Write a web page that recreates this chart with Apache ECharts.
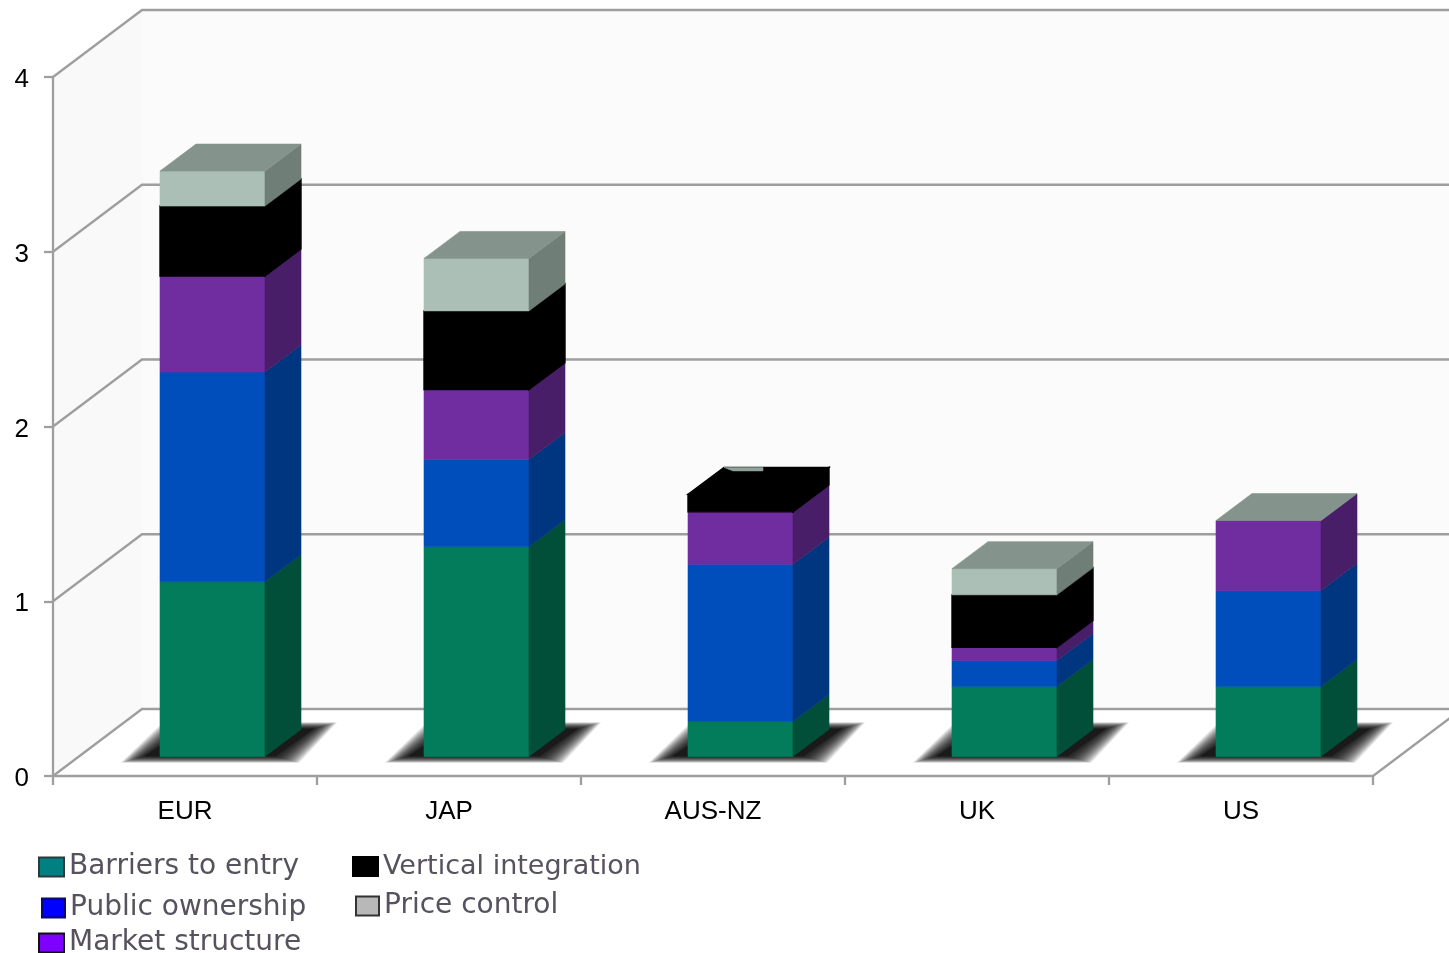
<!DOCTYPE html>
<html>
<head>
<meta charset="utf-8">
<style>html,body{margin:0;padding:0;background:#fff;overflow:hidden}#c{width:1449px;height:953px}</style>
<script src="https://cdn.jsdelivr.net/npm/echarts@6/dist/echarts.min.js"></script>
</head>
<body>
<div id="c"></div>
<script>
const categories = ['EUR', 'JAP', 'AUS-NZ', 'UK', 'US'];
const yTicks = [0, 1, 2, 3, 4];
const barriersToEntry = [1.0, 1.2, 0.2, 0.4, 0.4];
const publicOwnership = [1.2, 0.5, 0.9, 0.15, 0.55];
const marketStructure = [0.55, 0.4, 0.3, 0.075, 0.4];
const verticalIntegration = [0.4, 0.45, 0.1, 0.3, 0];
const priceControl = [0.2, 0.3, 0, 0.15, 0];

const layers = [
  { name: 'Barriers to entry', values: barriersToEntry, front: '#027C5A', side: '#014F39', top: '#014F39' },
  { name: 'Public ownership', values: publicOwnership, front: '#004EBC', side: '#00357F', top: '#00357F' },
  { name: 'Market structure', values: marketStructure, front: '#6F2DA0', side: '#491E69', top: '#491E69' },
  { name: 'Vertical integration', values: verticalIntegration, front: '#000000', side: '#000000', top: '#000000' },
  { name: 'Price control', values: priceControl, front: '#ABBFB7', side: '#6F7E76', top: '#84948C' }
];

const WALL_DX = 89, WALL_DY = -67;
const BAR_L = -25, BAR_R = 80, BAR_LIFT = -19.5, DEPTH_X = 36, DEPTH_Y = -27;
const LINE = '#9E9E9E';

function poly(points, fill, width) {
  return {
    type: 'polygon',
    shape: { points: points },
    style: { fill: fill, stroke: fill, lineWidth: width || 0.6 }
  };
}

function renderWalls(params, api) {
  const cs = params.coordSys;
  const x0 = cs.x, x1 = cs.x + cs.width;
  const yb = api.coord([0, 0])[1], yt = api.coord([0, 4])[1];
  const kids = [
    poly([[x0 + WALL_DX, yt + WALL_DY], [x1 + WALL_DX, yt + WALL_DY], [x1 + WALL_DX, yb + WALL_DY], [x0 + WALL_DX, yb + WALL_DY]], '#FBFBFB'),
    poly([[x0, yt], [x0 + WALL_DX, yt + WALL_DY], [x0 + WALL_DX, yb + WALL_DY], [x0, yb]], '#F9F9F9')
  ];
  yTicks.forEach(function (t) {
    const y = api.coord([0, t])[1];
    kids.push({ type: 'polyline', shape: { points: [[x0, y], [x0 + WALL_DX, y + WALL_DY], [x1 + WALL_DX, y + WALL_DY]] },
      style: { fill: null, stroke: LINE, lineWidth: 2.3 } });
  });
  kids.push({ type: 'line', shape: { x1: x1, y1: yb, x2: x1 + WALL_DX, y2: yb + WALL_DY },
    style: { stroke: LINE, lineWidth: 2.3 } });
  return { type: 'group', children: kids };
}

// soft floor shadow: many nested faint parallelograms around a dark core
function renderShadow(params, api) {
  const p = api.coord([api.value(0), 0]);
  const cx = p[0], y = p[1];
  const kids = [];
  for (let k = 16; k >= 1; k--) {
    const ex = k * 1.5, ey = k * 0.42;
    kids.push({ type: 'polygon',
      shape: { points: [[cx - 40 - ex, y - 20 + ey], [cx + 90 + ex, y - 20 + ey], [cx + 128 + ex, y - 47 - ey], [cx + 2 - ex, y - 47 - ey]] },
      style: { fill: 'rgba(0,0,0,0.11)' } });
  }
  kids.push(poly([[cx - 40, y - 20], [cx + 90, y - 20], [cx + 128, y - 47], [cx + 2, y - 47]], '#1A1A1A'));
  return { type: 'group', children: kids };
}

const topOwner = categories.map(function (c, i) {
  return priceControl[i] > 0 || verticalIntegration[i] === 0 ? 4 : 3;
});

function makeRender(li) {
  const L = layers[li];
  const w = L.front === '#000000' ? 1.4 : 0.6;
  return function (params, api) {
    const cat = api.value(0);
    const a = api.coord([cat, api.value(1)]);
    const b = api.coord([cat, api.value(2)]);
    const xl = a[0] + BAR_L, xr = a[0] + BAR_R;
    const yA = a[1] + BAR_LIFT, yB = b[1] + BAR_LIFT;
    const kids = [];
    if (yA - yB > 0.01) {
      kids.push(poly([[xl, yA], [xr, yA], [xr, yB], [xl, yB]], L.front, w));
      kids.push(poly([[xr, yA], [xr + DEPTH_X, yA + DEPTH_Y], [xr + DEPTH_X, yB + DEPTH_Y], [xr, yB]], L.side, w));
    }
    if (topOwner[cat] === li) {
      kids.push(poly([[xl, yB], [xr, yB], [xr + DEPTH_X, yB + DEPTH_Y], [xl + DEPTH_X, yB + DEPTH_Y]], L.top, w));
    }
    // zero-height price-control cap peeking over the black top
    if (li === 4 && topOwner[cat] === 3) {
      const yBack = yB + DEPTH_Y;
      kids.push(poly([[xl + DEPTH_X, yBack], [xl + 75, yBack], [xl + 75, yBack + 3.5], [xl + 45, yBack + 3.5]], '#8FA39B'));
    }
    return { type: 'group', children: kids };
  };
}

function stackRows(li) {
  return categories.map(function (c, i) {
    let base = 0;
    for (let k = 0; k < li; k++) base += layers[k].values[i];
    return [i, base, base + layers[li].values[i]];
  });
}

const series = [
  { type: 'custom', name: 'walls', z: 0, silent: true, renderItem: renderWalls, data: [[0]], encode: { x: -1, y: -1 } },
  { type: 'custom', name: 'floor shadow', z: 1, silent: true, renderItem: renderShadow,
    data: categories.map(function (c, i) { return [i]; }), encode: { x: 0, y: -1 } }
];
layers.forEach(function (L, li) {
  series.push({
    type: 'custom', name: L.name, z: 3 + li, silent: true,
    itemStyle: { color: L.front },
    renderItem: makeRender(li),
    data: stackRows(li),
    encode: { x: 0, y: [1, 2] }
  });
});

function legendAt(name, left, top, w, size, color, border) {
  const font = { fontFamily: 'DejaVu Sans', fontSize: size, color: '#56525E', lineHeight: 19 };
  return {
    left: left, top: top, padding: 0, selectedMode: false, itemWidth: w, itemHeight: 19,
    textStyle: font, icon: 'rect',
    data: [{ name: name, icon: 'rect', itemStyle: { color: color, borderColor: border, borderWidth: 2 }, textStyle: font }]
  };
}

const chart = echarts.init(document.getElementById('c'), null, { renderer: 'canvas' });
chart.setOption({
  animation: false,
  backgroundColor: '#ffffff',
  grid: { left: 53, top: 77, width: 1320, height: 699, containLabel: false },
  xAxis: {
    type: 'category', data: categories, boundaryGap: true, z: 2,
    axisLine: { show: true, lineStyle: { color: LINE, width: 2.3 } },
    axisTick: { show: true, alignWithLabel: false, length: 9, lineStyle: { color: LINE, width: 2.3 } },
    axisLabel: { color: '#000', fontFamily: 'Liberation Sans', fontSize: 26, margin: 23 },
    splitLine: { show: false }
  },
  yAxis: {
    type: 'value', min: 0, max: 4, interval: 1, z: 2,
    axisLine: { show: true, lineStyle: { color: LINE, width: 2.3 } },
    axisTick: { show: true, length: 9, lineStyle: { color: LINE, width: 2.3 } },
    axisLabel: {
      margin: 24, formatter: '{a|{value}}',
      rich: { a: { color: '#000', fontFamily: 'Liberation Sans', fontSize: 26, padding: [6, 0, 0, 0] } }
    },
    splitLine: { show: false }
  },
  legend: [
    legendAt('Barriers to entry', 38, 853, 25, 28, '#008080', '#2E3A3A'),
    legendAt('Public ownership', 41, 894, 23, 28, '#0000FF', '#0A0A6A'),
    legendAt('Market structure', 38, 929, 25, 28, '#7F00FF', '#111111'),
    legendAt('Vertical integration', 352, 853, 25, 27, '#000000', '#000000'),
    legendAt('Price control', 355, 892, 23, 28, '#B8B8B8', '#333333')
  ],
  series: series
});
</script>
</body>
</html>
